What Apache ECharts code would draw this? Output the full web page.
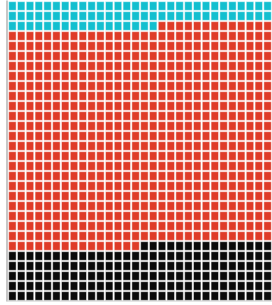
<!DOCTYPE html>
<html>
<head>
<meta charset="utf-8">
<script src="https://cdn.jsdelivr.net/npm/echarts@6/dist/echarts.min.js"></script>
<style>
  html, body { margin: 0; padding: 0; background: #fff; }
  #main { width: 272px; height: 305px; }
</style>
</head>
<body>
<div id="main"></div>
<script>
// waffle: 30 x 30 cells, filled row by row from top-left
var categories = ['cyan', 'red', 'black'];
var counts = [77, 658, 165];
var colors = ['#12bfcf', '#df3b28', '#0a0a0a'];
var nCols = 30;
var nRows = 30;

var cells = [];
var idx = 0;
for (var c = 0; c < counts.length; c++) {
    for (var k = 0; k < counts[c]; k++) {
        cells.push([idx % nCols, Math.floor(idx / nCols), c]);
        idx++;
    }
}

var chart = echarts.init(document.getElementById('main'));
chart.setOption({
    animation: false,
    grid: { left: 8, top: 1, width: 268, height: 300 },
    xAxis: {
        type: 'value', min: 0, max: nCols,
        axisLine: { show: true, onZero: false, lineStyle: { color: '#dddddd', width: 1.5 } },
        axisTick: { show: false }, axisLabel: { show: false }, splitLine: { show: false }
    },
    yAxis: {
        type: 'value', min: 0, max: nRows, inverse: true, offset: 1,
        axisLine: { show: true, onZero: false, lineStyle: { color: '#b5b5b5', width: 1.5 } },
        axisTick: { show: false }, axisLabel: { show: false }, splitLine: { show: false }
    },
    series: [{
        type: 'custom',
        data: cells,
        renderItem: function (params, api) {
            var p = api.coord([api.value(0), api.value(1)]);
            var s = api.size([1, 1]);
            var inset = 0.7;
            return {
                type: 'rect',
                shape: { x: p[0] + inset, y: p[1] + inset, width: s[0] - 2 * inset, height: s[1] - 2 * inset },
                style: {
                    fill: colors[api.value(2)],
                    stroke: 'rgba(255,255,255,0.45)',
                    lineWidth: 1
                }
            };
        }
    }]
});
</script>
</body>
</html>
